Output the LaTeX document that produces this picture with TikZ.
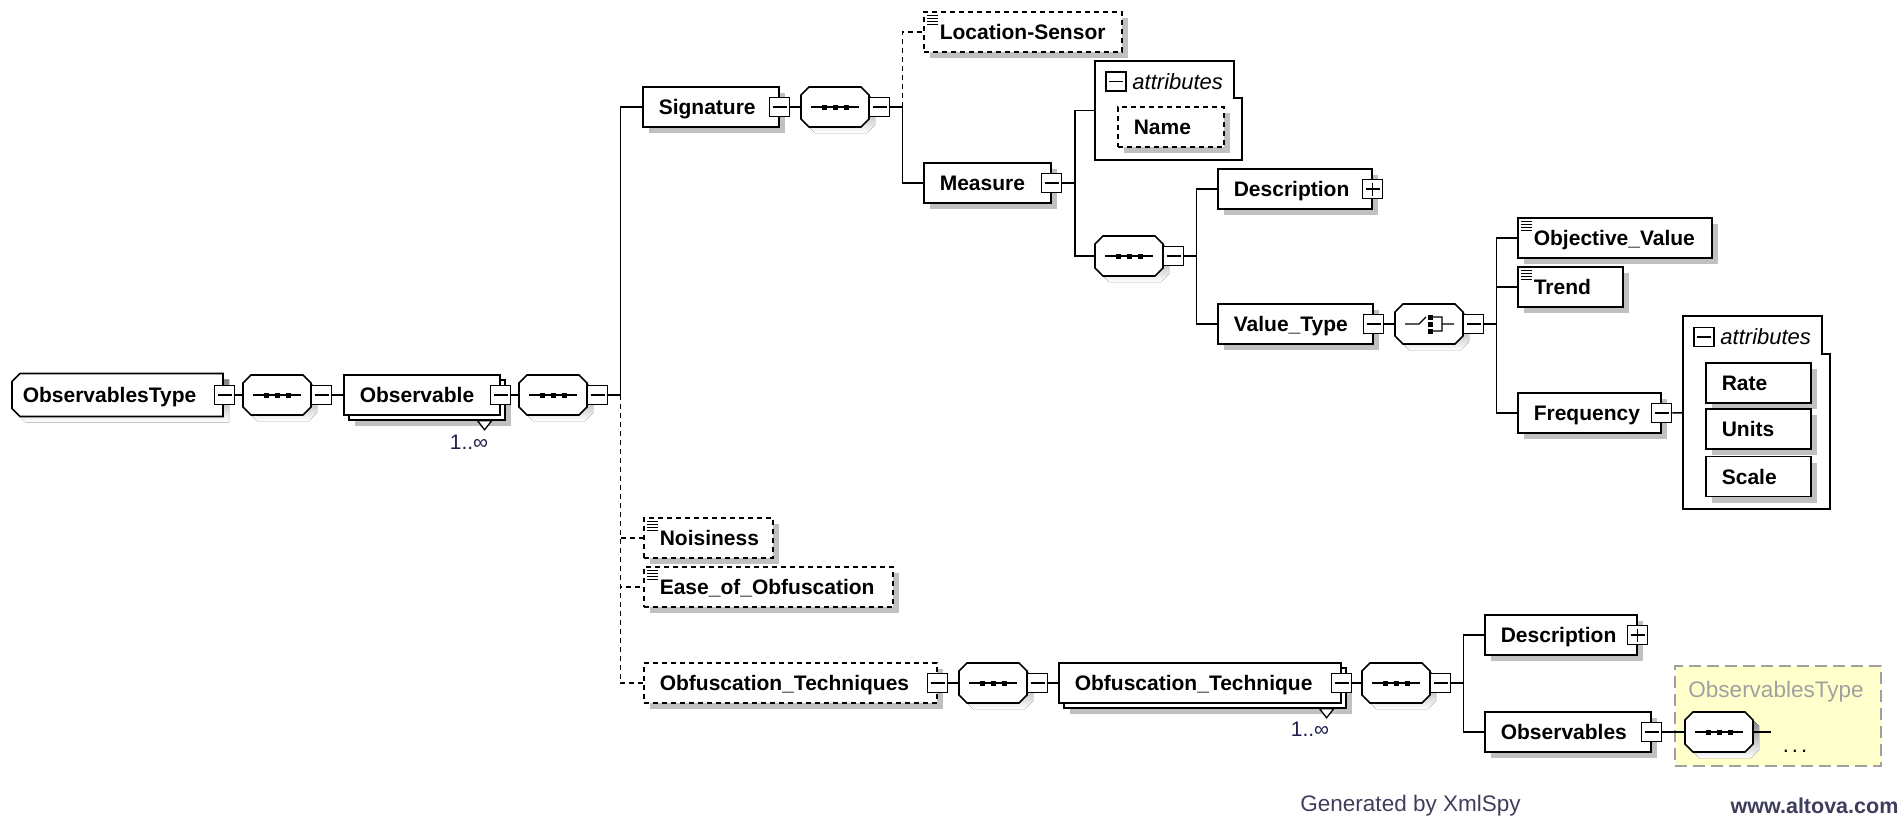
\documentclass[tikz,border=0pt]{standalone}
\usepackage{fontspec}
\setmainfont{Liberation Sans}
\usetikzlibrary{positioning,shadows}

\definecolor{shade}{RGB}{192,192,192}
\definecolor{refyellow}{RGB}{255,255,204}
\definecolor{refgray}{RGB}{160,160,160}
\definecolor{footer}{RGB}{62,62,92}
\definecolor{occur}{RGB}{30,30,78}

\begin{document}
\begin{tikzpicture}[
  x=1pt, y=-1pt, line width=1.6pt,
  box/.style={draw, fill=white, anchor=west, minimum height=40pt, inner xsep=16pt, inner ysep=0pt,
    align=left, text height=15pt, text depth=0pt, font=\bfseries\fontsize{21}{24}\selectfont},
  elem/.style={box, drop shadow={shadow xshift=6pt, shadow yshift=-6pt, fill=shade, opacity=1, draw=none}},
  opt/.style={elem, dash pattern=on 5pt off 4pt},
  multi/.style={box,
    drop shadow={shadow xshift=11pt, shadow yshift=-11pt, fill=shade, opacity=1, draw=none},
    copy shadow={shadow xshift=5pt, shadow yshift=-5pt, fill=white, draw=black, opacity=1}},
  simple/.style={path picture={\foreach \dy in {3,6,9,12}
      \draw[black, solid, line width=1pt] ([xshift=3pt,yshift=-\dy pt]path picture bounding box.north west) -- ++(11pt,0pt);}},
  xbox/.style={draw, fill=white, line width=1.3pt, minimum width=20pt, minimum height=19pt, inner sep=0pt},
  xmin/.style={xbox, path picture={\draw[black, line width=1.3pt]
      ([xshift=3pt]path picture bounding box.west) -- ([xshift=-3pt]path picture bounding box.east);}},
  xplus/.style={xbox, path picture={\draw[black, line width=1.3pt]
      ([xshift=3pt]path picture bounding box.west) -- ([xshift=-3pt]path picture bounding box.east)
      ([yshift=-3pt]path picture bounding box.north) -- ([yshift=3pt]path picture bounding box.south);}},
  comp/.style={anchor=west, minimum width=68pt, minimum height=40pt, inner sep=0pt, outer sep=0pt},
  oct/.style={insert path={(-34pt,-12pt) -- (-34pt,12pt) -- (-26pt,20pt) -- (26pt,20pt) -- (34pt,12pt)
      -- (34pt,-12pt) -- (26pt,-20pt) -- (-26pt,-20pt) -- cycle}},
  rootline/.style={insert path={(-97.5pt,21.5pt) -- (-105.5pt,13.5pt) -- (-105.5pt,-13.5pt) -- (-97.5pt,-21.5pt)
      -- (105.5pt,-21.5pt) -- (105.5pt,21.5pt) -- cycle}},
  seqpic/.pic={
    \fill[shade, xshift=6pt, yshift=-6pt] [oct];
    \filldraw[fill=white] [oct];
    \draw[line width=1.3pt] (-24pt,0pt) -- (24pt,0pt);
    \foreach \dx in {-11,0,11} \fill (\dx pt,0pt) ++(-2.5pt,-2.5pt) rectangle ++(5pt,5pt);
  },
  choicepic/.pic={
    \fill[shade, xshift=6pt, yshift=-6pt] [oct];
    \filldraw[fill=white] [oct];
    \draw[line width=1.3pt] (-24pt,0pt) -- (-10pt,0pt) -- (-3pt,7pt)
      (3pt,7pt) -- (13pt,7pt) -- (13pt,-7pt) -- (3pt,-7pt)
      (13pt,0pt) -- (25pt,0pt);
    \foreach \dy in {-7,0,7} \fill (1pt,\dy pt) ++(-2.5pt,-2.5pt) rectangle ++(5pt,5pt);
  },
  rootpic/.pic={
    \fill[shade, xshift=6pt, yshift=-6pt] [rootline];
    \filldraw[fill=white] [rootline];
  },
  area/.style={anchor=north west, inner sep=0pt, outer sep=0pt},
  attrhead/.style={font=\itshape\fontsize{22}{26}\selectfont, inner sep=0pt, text height=15pt, text depth=0pt},
  occ/.style={font=\fontsize{21}{24}\selectfont, text=occur, inner sep=0pt},
  opt line/.style={dash pattern=on 5pt off 4pt},
  foot/.style={text=footer, inner sep=0pt}
]
\useasboundingbox (0,0) rectangle (1903,817);

% main row
\pic at (117.5,395) {rootpic};
\node[box, draw=none, fill=none, inner xsep=10pt, minimum width=211pt, minimum height=43pt, text width=191pt] (root) at (12,395) {ObservablesType};
\node[comp] (seq1) at (243,395) {};
\pic at (seq1) {seqpic};
\node[multi, text width=124pt] (obs) at (343,395) {Observable};
\node[comp] (seq2) at (519,395) {};
\pic at (seq2) {seqpic};

% children of Observable
\node[elem, text width=104pt] (sig) at (642,107) {Signature};
\node[opt, simple, text width=97pt] (noise) at (643,538) {Noisiness};
\node[opt, simple, text width=217pt] (ease) at (643,587) {Ease\_of\_Obfuscation};
\node[opt, text width=261pt] (obft) at (643,683) {Obfuscation\_Techniques};

% Signature
\node[comp] (seq3) at (801,107) {};
\pic at (seq3) {seqpic};
\node[opt, simple, text width=166pt] (loc) at (923,32) {Location-Sensor};
\node[elem, text width=95pt] (meas) at (923,183) {Measure};

% Measure
\node[area, minimum width=147pt, minimum height=99pt] (attr1) at (1095,61) {};
\draw (attr1.north west) -- ([xshift=-8pt]attr1.north east) |- ([yshift=-37pt]attr1.north east)
  -- (attr1.south east) -- (attr1.south west) -- cycle;
\node[xmin] (attr1M) at (1116,81.5) {};
\node[attrhead, right=5pt of attr1M] (attr1T) {attributes};
\node[opt, text width=74pt] (name) at (1117,127) {Name};
\node[comp] (seq4) at (1095,256) {};
\pic at (seq4) {seqpic};
\node[elem, text width=122pt] (desc1) at (1217,189) {Description};
\node[elem, text width=123pt] (vtype) at (1217,324) {Value\_Type};

% Value_Type
\node[comp] (choice) at (1395,324) {};
\pic at (choice) {choicepic};
\node[elem, simple, text width=162pt] (objv) at (1517,238) {Objective\_Value};
\node[elem, simple, text width=73pt] (trend) at (1517,287) {Trend};
\node[elem, text width=111pt] (freq) at (1517,413) {Frequency};
\node[area, minimum width=147pt, minimum height=193pt] (attr2) at (1683,316) {};
\draw (attr2.north west) -- ([xshift=-8pt]attr2.north east) |- ([yshift=-38pt]attr2.north east)
  -- (attr2.south east) -- (attr2.south west) -- cycle;
\node[xmin] (attr2M) at (1704,337) {};
\node[attrhead, right=5pt of attr2M] (attr2T) {attributes};
\node[elem, text width=73pt] (rate) at (1705,383) {Rate};
\node[elem, text width=73pt] (units) at (1705,429) {Units};
\node[elem, text width=73pt] (scale) at (1705,476.5) {Scale};

% Obfuscation_Techniques
\node[comp] (seq5) at (959,683) {};
\pic at (seq5) {seqpic};
\node[multi, text width=250pt] (obfq) at (1058,683) {Obfuscation\_Technique};
\node[comp] (seq6) at (1362,683) {};
\pic at (seq6) {seqpic};
\node[elem, text width=120pt] (desc2) at (1484,635) {Description};
\node[elem, text width=134pt] (obss) at (1484,732) {Observables};
\node[area, draw=refgray, fill=refyellow, line width=1.3pt, dash pattern=on 12pt off 6pt,
  minimum width=206pt, minimum height=100pt] (ref) at (1675,666) {};
\node[font=\fontsize{22.5}{26}\selectfont, text=refgray, inner sep=0pt] (refT) at (1776,692) {ObservablesType};
\node[comp] (seq7) at (1685,732) {};
\pic at (seq7) {seqpic};
\coordinate (seq7end) at (1771,732);
\node[font=\fontsize{22}{26}\selectfont, inner sep=0pt] (more) at (1795,751) {.\kern3pt.\kern3pt.};

% expand buttons
\node[xmin] (rootM) at (root.east) {};
\node[xmin, right=0pt of seq1] (seq1M) {};
\node[xmin] (obsM) at (obs.east) {};
\node[xmin, right=0pt of seq2] (seq2M) {};
\node[xmin] (sigM) at (sig.east) {};
\node[xmin, right=0pt of seq3] (seq3M) {};
\node[xmin] (measM) at (meas.east) {};
\node[xmin, right=0pt of seq4] (seq4M) {};
\node[xplus] (desc1M) at (desc1.east) {};
\node[xmin] (vtypeM) at (vtype.east) {};
\node[xmin, right=0pt of choice] (choiceM) {};
\node[xmin] (freqM) at (freq.east) {};
\node[xmin] (obftM) at (obft.east) {};
\node[xmin, right=0pt of seq5] (seq5M) {};
\node[xmin] (obfqM) at (obfq.east) {};
\node[xmin, right=0pt of seq6] (seq6M) {};
\node[xplus] (desc2M) at (desc2.east) {};
\node[xmin] (obssM) at (obss.east) {};

% occurrences
\draw[line width=1.3pt, fill=white] ([xshift=-23pt,yshift=-5pt]obs.south east) -- ++(14pt,0pt) -- ++(-7pt,-9pt) -- cycle;
\node[occ] (obsN) at (469,442) {1..∞};
\draw[line width=1.3pt, fill=white] ([xshift=-22pt,yshift=-5pt]obfq.south east) -- ++(14pt,0pt) -- ++(-7pt,-9pt) -- cycle;
\node[occ] (obfqN) at (1310,729) {1..∞};

% connectors
\draw (rootM) -- (seq1);
\draw (seq1M) -- (obs);
\draw (obsM) -- (seq2);
\draw (seq2M.east) -- ++(12,0) coordinate (t1);
\draw (t1) |- (sig);
\draw[opt line] (t1) |- (noise);
\draw[opt line] (t1) |- (ease);
\draw[opt line] (t1) |- (obft);
\draw (sigM) -- (seq3);
\draw (seq3M.east) -- ++(12,0) coordinate (t2);
\draw[opt line] (t2) |- (loc);
\draw (t2) |- (meas);
\draw (measM.east) -- ++(13,0) coordinate (t3);
\draw (t3) |- (attr1);
\draw (t3) |- (seq4);
\draw (seq4M.east) -- ++(12,0) coordinate (t4);
\draw (t4) |- (desc1);
\draw (t4) |- (vtype);
\draw (vtypeM) -- (choice);
\draw (choiceM.east) -- ++(12,0) coordinate (t5);
\draw (t5) |- (objv);
\draw (t5) |- (trend);
\draw (t5) |- (freq);
\draw (freqM) -- (attr2);
\draw (obftM) -- (seq5);
\draw (seq5M) -- (obfq);
\draw (obfqM) -- (seq6);
\draw (seq6M.east) -- ++(12,0) coordinate (t6);
\draw (t6) |- (desc2);
\draw (t6) |- (obss);
\draw (obssM) -- (seq7);
\draw (seq7) -- (seq7end);

% footer
\node[foot, font=\fontsize{22.5}{26}\selectfont] (gen) at (1410.5,806) {Generated by XmlSpy};
\node[foot, font=\bfseries\fontsize{21.5}{25}\selectfont] (web) at (1814.5,806) {www.altova.com};
\end{tikzpicture}
\end{document}
